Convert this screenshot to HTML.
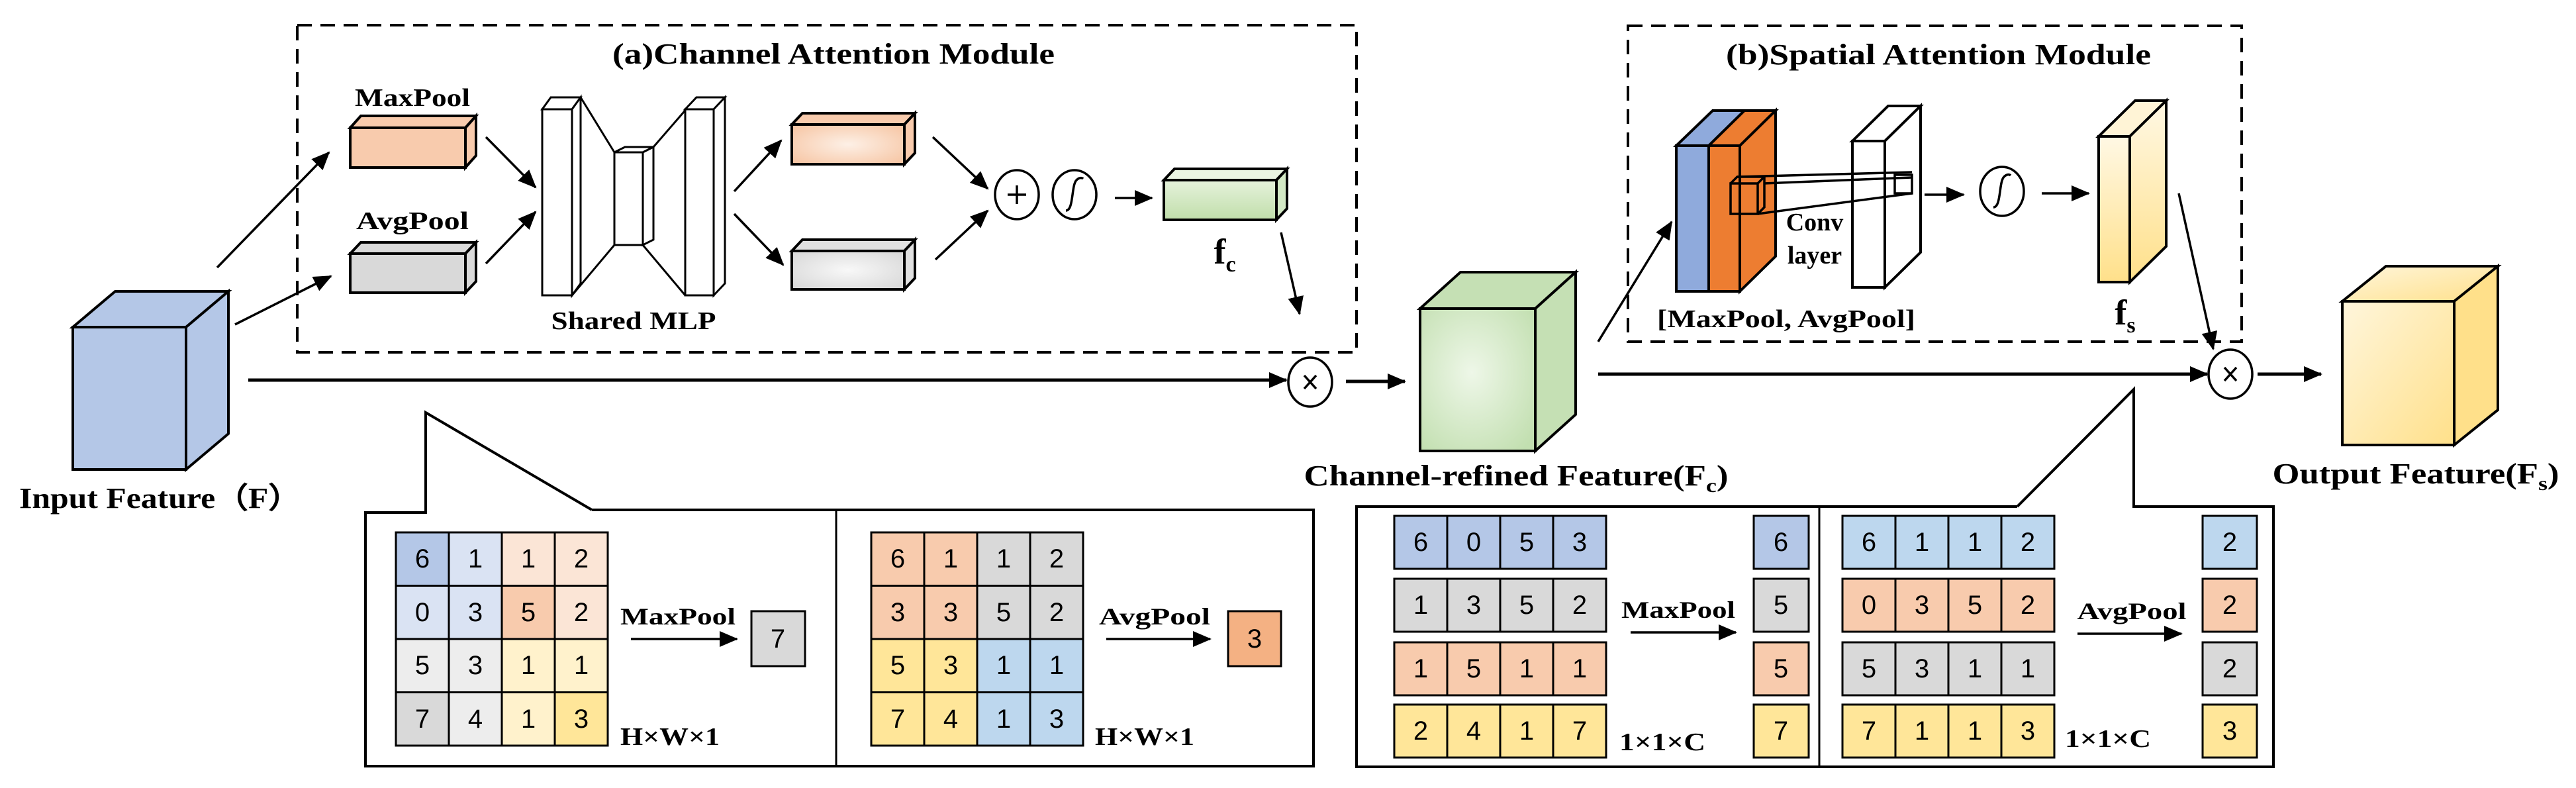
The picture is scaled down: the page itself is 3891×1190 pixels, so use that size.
<!DOCTYPE html>
<html><head><meta charset="utf-8"><style>html,body{margin:0;padding:0;background:#fff}svg{display:block}</style></head>
<body>
<svg xmlns="http://www.w3.org/2000/svg" width="3891" height="1190" viewBox="0 0 3891 1190">
<defs>
<marker id="ah" markerUnits="userSpaceOnUse" markerWidth="30" markerHeight="24" refX="26" refY="12" orient="auto"><path d="M0,0 L28,12 L0,24 Z" fill="#000"/></marker>
<linearGradient id="gOut" x1="0" y1="0" x2="1" y2="1"><stop offset="0" stop-color="#fff6dc"/><stop offset="1" stop-color="#ffe08a"/></linearGradient>
<linearGradient id="gFs" x1="0" y1="0" x2="0" y2="1"><stop offset="0" stop-color="#fff8e4"/><stop offset="1" stop-color="#ffe08a"/></linearGradient>
<radialGradient id="gGreen" cx="0.45" cy="0.45" r="0.7"><stop offset="0" stop-color="#eef7e8"/><stop offset="1" stop-color="#c2dfb0"/></radialGradient>
<radialGradient id="gOr" cx="0.5" cy="0.5" r="0.7"><stop offset="0" stop-color="#fdf0e6"/><stop offset="1" stop-color="#f6c3a0"/></radialGradient>
<radialGradient id="gGr" cx="0.5" cy="0.5" r="0.7"><stop offset="0" stop-color="#f8f8f8"/><stop offset="1" stop-color="#d6d6d6"/></radialGradient>
<linearGradient id="gFc" x1="0" y1="0" x2="0" y2="1"><stop offset="0" stop-color="#e6f2dc"/><stop offset="1" stop-color="#c0deaa"/></linearGradient>
</defs>
<g fill="none" stroke="#000" stroke-width="4" stroke-linejoin="miter">
<rect x="449" y="38" width="1600" height="494" stroke-dasharray="22,13"/>
<rect x="2459" y="39" width="927" height="477" stroke-dasharray="22,13"/>
</g>
<g font-family="Liberation Serif, serif" font-weight="bold" fill="#000" text-anchor="middle">
<text x="1259" y="96" font-size="44" textLength="668" lengthAdjust="spacingAndGlyphs">(a)Channel Attention Module</text>
<text x="2928" y="97" font-size="44" textLength="642" lengthAdjust="spacingAndGlyphs">(b)Spatial Attention Module</text>
<text x="623" y="160" font-size="38" textLength="174" lengthAdjust="spacingAndGlyphs">MaxPool</text>
<text x="623" y="346" font-size="38" textLength="170" lengthAdjust="spacingAndGlyphs">AvgPool</text>
<text x="957" y="497" font-size="38" textLength="249" lengthAdjust="spacingAndGlyphs">Shared MLP</text>
<text x="242" y="767" font-size="44" textLength="426" lengthAdjust="spacingAndGlyphs">Input Feature（F）</text>
<text x="2290" y="733" font-size="44" textLength="641" lengthAdjust="spacingAndGlyphs">Channel-refined Feature(F<tspan font-size="30" dy="10">c</tspan><tspan dy="-10">)</tspan></text>
<text x="3649" y="730" font-size="44" textLength="433" lengthAdjust="spacingAndGlyphs">Output Feature(F<tspan font-size="30" dy="10">s</tspan><tspan dy="-10">)</tspan></text>
<text x="2698" y="494" font-size="38" textLength="390" lengthAdjust="spacingAndGlyphs">[MaxPool, AvgPool]</text>
<text x="2741" y="348" font-size="38">Conv</text>
<text x="2741" y="398" font-size="38">layer</text>
<text x="1850" y="398" font-size="54">f<tspan font-size="34" dy="12">c</tspan></text>
<text x="3210" y="490" font-size="54">f<tspan font-size="34" dy="12">s</tspan></text>
<text x="1024" y="943" font-size="36" textLength="174" lengthAdjust="spacingAndGlyphs">MaxPool</text>
<text x="1744" y="943" font-size="36" textLength="168" lengthAdjust="spacingAndGlyphs">AvgPool</text>
<text x="2535" y="933" font-size="36" textLength="172" lengthAdjust="spacingAndGlyphs">MaxPool</text>
<text x="3220" y="935" font-size="36" textLength="165" lengthAdjust="spacingAndGlyphs">AvgPool</text>
</g>
<g font-family="Liberation Serif, serif" font-weight="bold" fill="#000" font-size="38">
<text x="937" y="1125" textLength="150" lengthAdjust="spacingAndGlyphs">H×W×1</text>
<text x="1654" y="1125" textLength="150" lengthAdjust="spacingAndGlyphs">H×W×1</text>
<text x="2446" y="1133" textLength="130" lengthAdjust="spacingAndGlyphs">1×1×C</text>
<text x="3119" y="1128" textLength="130" lengthAdjust="spacingAndGlyphs">1×1×C</text>
</g>

<g stroke="#000" stroke-width="4" stroke-linejoin="miter">
<rect x="110" y="494" width="171" height="215" fill="#b4c7e7"/>
<polygon points="110,494 174,440 345,440 281,494" fill="#b4c7e7"/>
<polygon points="281,494 345,440 345,655 281,709" fill="#b4c7e7"/>
<rect x="529" y="193" width="174" height="60" fill="#f8cbad"/>
<polygon points="529,193 545,175 719,175 703,193" fill="#f8cbad"/>
<polygon points="703,193 719,175 719,235 703,253" fill="#f8cbad"/>
<rect x="529" y="383" width="174" height="59" fill="#d9d9d9"/>
<polygon points="529,383 545,366 719,366 703,383" fill="#d9d9d9"/>
<polygon points="703,383 719,366 719,425 703,442" fill="#d9d9d9"/>
<g fill="#fff" stroke-width="3">
<polyline points="877,147 928,230" fill="none"/>
<polyline points="864,446 928,370" fill="none"/>
<polyline points="987,222 1052,147" fill="none"/>
<polyline points="971,370 1035,446" fill="none"/>
<rect x="819" y="165" width="45" height="281"/>
<polygon points="819,165 832,147 877,147 864,165"/>
<polygon points="864,165 877,147 877,428 864,446"/>
<rect x="928" y="230" width="43" height="140"/>
<polygon points="928,230 944,222 987,222 971,230"/>
<polygon points="971,230 987,222 987,362 971,370"/>
<rect x="1035" y="165" width="43" height="281"/>
<polygon points="1035,165 1052,147 1095,147 1078,165"/>
<polygon points="1078,165 1095,147 1095,428 1078,446"/>
</g>
<rect x="1196" y="188" width="170" height="60" fill="url(#gOr)"/>
<polygon points="1196,188 1212,171 1382,171 1366,188" fill="#f8cbad"/>
<polygon points="1366,188 1382,171 1382,231 1366,248" fill="#f8cbad"/>
<rect x="1196" y="379" width="170" height="58" fill="url(#gGr)"/>
<polygon points="1196,379 1212,362 1382,362 1366,379" fill="#e0e0e0"/>
<polygon points="1366,379 1382,362 1382,420 1366,437" fill="#e0e0e0"/>
<rect x="1758" y="272" width="170" height="60" fill="url(#gFc)"/>
<polygon points="1758,272 1774,255 1944,255 1928,272" fill="#eaf4e2"/>
<polygon points="1928,272 1944,255 1944,315 1928,332" fill="#d2e8c4"/>
<rect x="2145" y="466" width="174" height="215" fill="url(#gGreen)"/>
<polygon points="2145,466 2206,411 2380,411 2319,466" fill="#c5e0b4"/>
<polygon points="2319,466 2380,411 2380,626 2319,681" fill="#c5e0b4"/>
<rect x="3538" y="455" width="169" height="217" fill="url(#gOut)"/>
<polygon points="3538,455 3604,402 3773,402 3707,455" fill="url(#gOut)"/>
<polygon points="3707,455 3773,402 3773,619 3707,672" fill="#ffe08a"/>
<rect x="2532" y="220" width="49" height="220" fill="#8faadc"/>
<rect x="2581" y="220" width="47" height="220" fill="#ed7d31"/>
<polygon points="2532,220 2587,167 2635,167 2581,220" fill="#8faadc"/>
<polygon points="2581,220 2635,167 2682,167 2628,220" fill="#ed7d31"/>
<polygon points="2628,220 2682,167 2682,387 2628,440" fill="#ed7d31"/>
<rect x="2798" y="213" width="49" height="221" fill="#fff"/>
<polygon points="2798,213 2852,160 2901,160 2847,213" fill="#fff"/>
<polygon points="2847,213 2901,160 2901,381 2847,434" fill="#fff"/>
<g fill="none" stroke-width="3.5">
<rect x="2614" y="277" width="41" height="46"/>
<polyline points="2614,277 2624,267 2665,267 2655,277"/>
<polyline points="2655,323 2665,313 2665,267"/>
<rect x="2862" y="264" width="26" height="28"/>
<line x1="2624" y1="267" x2="2888" y2="260"/>
<line x1="2665" y1="277" x2="2888" y2="268"/>
<line x1="2655" y1="323" x2="2888" y2="292"/>
</g>
<rect x="3170" y="206" width="47" height="220" fill="url(#gFs)"/>
<polygon points="3170,206 3225,152 3272,152 3217,206" fill="#fff4d6"/>
<polygon points="3217,206 3272,152 3272,372 3217,426" fill="url(#gFs)"/>
<g fill="#fff" stroke-width="3.5">
<ellipse cx="1536" cy="294" rx="33" ry="37"/>
<ellipse cx="1623" cy="294" rx="33" ry="37"/>
<ellipse cx="1979" cy="577" rx="33" ry="37"/>
<ellipse cx="3024" cy="289" rx="33" ry="37"/>
<ellipse cx="3369" cy="565" rx="33" ry="37"/>
</g>
<g fill="none" stroke-width="3.5">
<line x1="1536" y1="280" x2="1536" y2="308"/><line x1="1522" y1="294" x2="1550" y2="294"/>
<path d="M1610,318 C1622,318 1618,280 1626,272 C1630,268 1634,268 1636,270"/>
<path d="M3011,313 C3023,313 3019,275 3027,267 C3031,263 3035,263 3037,265"/>
<line x1="1970" y1="567" x2="1988" y2="587"/><line x1="1988" y1="567" x2="1970" y2="587"/>
<line x1="3360" y1="555" x2="3378" y2="575"/><line x1="3378" y1="555" x2="3360" y2="575"/>
</g>
<g fill="none" stroke-width="3.5" marker-end="url(#ah)">
<line x1="328" y1="404" x2="497" y2="230"/>
<line x1="355" y1="490" x2="500" y2="417"/>
<line x1="734" y1="207" x2="809" y2="283"/>
<line x1="734" y1="398" x2="809" y2="320"/>
<line x1="1109" y1="289" x2="1180" y2="212"/>
<line x1="1109" y1="323" x2="1183" y2="400"/>
<line x1="1409" y1="207" x2="1492" y2="285"/>
<line x1="1413" y1="392" x2="1492" y2="318"/>
<line x1="1684" y1="299" x2="1740" y2="299"/>
<line x1="1935" y1="351" x2="1963" y2="474"/>
<line x1="375" y1="574" x2="1943" y2="574" stroke-width="5"/>
<line x1="2033" y1="576" x2="2122" y2="576" stroke-width="5"/>
<line x1="2414" y1="565" x2="3334" y2="565" stroke-width="5"/>
<line x1="3410" y1="565" x2="3506" y2="565" stroke-width="5"/>
<line x1="2414" y1="516" x2="2525" y2="335"/>
<line x1="2907" y1="294" x2="2966" y2="294"/>
<line x1="3084" y1="292" x2="3155" y2="292"/>
<line x1="3291" y1="292" x2="3343" y2="527"/>
<line x1="953" y1="965" x2="1113" y2="965"/>
<line x1="1671" y1="965" x2="1828" y2="965"/>
<line x1="2463" y1="955" x2="2622" y2="955"/>
<line x1="3138" y1="957" x2="3295" y2="957"/>
</g>
<g fill="none" stroke-width="4">
<polyline points="894,770 1984,770 1984,1157 552,1157 552,774 643,774 643,623 894,770"/>
<line x1="1263" y1="770" x2="1263" y2="1157" stroke-width="3"/>
<polyline points="3047,765 2049,765 2049,1158 3434,1158 3434,765 3223,765 3223,588 3047,765"/>
<line x1="2748" y1="765" x2="2748" y2="1158" stroke-width="3"/>
</g>
</g>

<g stroke="#000" stroke-width="3">
<rect x="598" y="804" width="80" height="80.5" fill="#b4c7e7"/><rect x="678" y="804" width="80" height="80.5" fill="#dae3f3"/><rect x="758" y="804" width="80" height="80.5" fill="#fbe5d6"/><rect x="838" y="804" width="80" height="80.5" fill="#fbe5d6"/>
<rect x="598" y="884.5" width="80" height="80.5" fill="#dae3f3"/><rect x="678" y="884.5" width="80" height="80.5" fill="#dae3f3"/><rect x="758" y="884.5" width="80" height="80.5" fill="#f8cbad"/><rect x="838" y="884.5" width="80" height="80.5" fill="#fbe5d6"/>
<rect x="598" y="965" width="80" height="80.5" fill="#ededed"/><rect x="678" y="965" width="80" height="80.5" fill="#ededed"/><rect x="758" y="965" width="80" height="80.5" fill="#fff2cc"/><rect x="838" y="965" width="80" height="80.5" fill="#fff2cc"/>
<rect x="598" y="1045.5" width="80" height="80.5" fill="#d9d9d9"/><rect x="678" y="1045.5" width="80" height="80.5" fill="#ededed"/><rect x="758" y="1045.5" width="80" height="80.5" fill="#fff2cc"/><rect x="838" y="1045.5" width="80" height="80.5" fill="#ffe699"/>
<rect x="1135" y="923" width="81" height="83" fill="#d9d9d9"/>
<rect x="1316" y="804" width="80" height="80.5" fill="#f8cbad"/><rect x="1396" y="804" width="80" height="80.5" fill="#f8cbad"/><rect x="1476" y="804" width="80" height="80.5" fill="#d9d9d9"/><rect x="1556" y="804" width="80" height="80.5" fill="#d9d9d9"/>
<rect x="1316" y="884.5" width="80" height="80.5" fill="#f8cbad"/><rect x="1396" y="884.5" width="80" height="80.5" fill="#f8cbad"/><rect x="1476" y="884.5" width="80" height="80.5" fill="#d9d9d9"/><rect x="1556" y="884.5" width="80" height="80.5" fill="#d9d9d9"/>
<rect x="1316" y="965" width="80" height="80.5" fill="#ffe699"/><rect x="1396" y="965" width="80" height="80.5" fill="#ffe699"/><rect x="1476" y="965" width="80" height="80.5" fill="#bdd7ee"/><rect x="1556" y="965" width="80" height="80.5" fill="#bdd7ee"/>
<rect x="1316" y="1045.5" width="80" height="80.5" fill="#ffe699"/><rect x="1396" y="1045.5" width="80" height="80.5" fill="#ffe699"/><rect x="1476" y="1045.5" width="80" height="80.5" fill="#bdd7ee"/><rect x="1556" y="1045.5" width="80" height="80.5" fill="#bdd7ee"/>
<rect x="1855" y="923" width="80" height="83" fill="#f4b183"/>
<rect x="2106" y="779" width="80" height="80" fill="#b4c7e7"/><rect x="2186" y="779" width="80" height="80" fill="#b4c7e7"/><rect x="2266" y="779" width="80" height="80" fill="#b4c7e7"/><rect x="2346" y="779" width="80" height="80" fill="#b4c7e7"/>
<rect x="2106" y="874" width="80" height="80" fill="#d9d9d9"/><rect x="2186" y="874" width="80" height="80" fill="#d9d9d9"/><rect x="2266" y="874" width="80" height="80" fill="#d9d9d9"/><rect x="2346" y="874" width="80" height="80" fill="#d9d9d9"/>
<rect x="2106" y="970" width="80" height="80" fill="#f8cbad"/><rect x="2186" y="970" width="80" height="80" fill="#f8cbad"/><rect x="2266" y="970" width="80" height="80" fill="#f8cbad"/><rect x="2346" y="970" width="80" height="80" fill="#f8cbad"/>
<rect x="2106" y="1064" width="80" height="80" fill="#ffe699"/><rect x="2186" y="1064" width="80" height="80" fill="#ffe699"/><rect x="2266" y="1064" width="80" height="80" fill="#ffe699"/><rect x="2346" y="1064" width="80" height="80" fill="#ffe699"/>
<rect x="2649" y="779" width="83" height="80" fill="#b4c7e7"/><rect x="2649" y="874" width="83" height="80" fill="#d9d9d9"/><rect x="2649" y="970" width="83" height="80" fill="#f8cbad"/><rect x="2649" y="1064" width="83" height="80" fill="#ffe699"/>
<rect x="2783" y="779" width="80" height="80" fill="#bdd7ee"/><rect x="2863" y="779" width="80" height="80" fill="#bdd7ee"/><rect x="2943" y="779" width="80" height="80" fill="#bdd7ee"/><rect x="3023" y="779" width="80" height="80" fill="#bdd7ee"/>
<rect x="2783" y="874" width="80" height="80" fill="#f8cbad"/><rect x="2863" y="874" width="80" height="80" fill="#f8cbad"/><rect x="2943" y="874" width="80" height="80" fill="#f8cbad"/><rect x="3023" y="874" width="80" height="80" fill="#f8cbad"/>
<rect x="2783" y="970" width="80" height="80" fill="#d9d9d9"/><rect x="2863" y="970" width="80" height="80" fill="#d9d9d9"/><rect x="2943" y="970" width="80" height="80" fill="#d9d9d9"/><rect x="3023" y="970" width="80" height="80" fill="#d9d9d9"/>
<rect x="2783" y="1064" width="80" height="80" fill="#ffe699"/><rect x="2863" y="1064" width="80" height="80" fill="#ffe699"/><rect x="2943" y="1064" width="80" height="80" fill="#ffe699"/><rect x="3023" y="1064" width="80" height="80" fill="#ffe699"/>
<rect x="3327" y="779" width="82" height="80" fill="#bdd7ee"/><rect x="3327" y="874" width="82" height="80" fill="#f8cbad"/><rect x="3327" y="970" width="82" height="80" fill="#d9d9d9"/><rect x="3327" y="1064" width="82" height="80" fill="#ffe699"/>
</g>
<g font-family="Liberation Sans, sans-serif" font-size="40" fill="#000" text-anchor="middle" dominant-baseline="central">
<text x="638" y="844">6</text><text x="718" y="844">1</text><text x="798" y="844">1</text><text x="878" y="844">2</text>
<text x="638" y="925">0</text><text x="718" y="925">3</text><text x="798" y="925">5</text><text x="878" y="925">2</text>
<text x="638" y="1005">5</text><text x="718" y="1005">3</text><text x="798" y="1005">1</text><text x="878" y="1005">1</text>
<text x="638" y="1086">7</text><text x="718" y="1086">4</text><text x="798" y="1086">1</text><text x="878" y="1086">3</text>
<text x="1175" y="965">7</text>
<text x="1356" y="844">6</text><text x="1436" y="844">1</text><text x="1516" y="844">1</text><text x="1596" y="844">2</text>
<text x="1356" y="925">3</text><text x="1436" y="925">3</text><text x="1516" y="925">5</text><text x="1596" y="925">2</text>
<text x="1356" y="1005">5</text><text x="1436" y="1005">3</text><text x="1516" y="1005">1</text><text x="1596" y="1005">1</text>
<text x="1356" y="1086">7</text><text x="1436" y="1086">4</text><text x="1516" y="1086">1</text><text x="1596" y="1086">3</text>
<text x="1895" y="965">3</text>
<text x="2146" y="819">6</text><text x="2226" y="819">0</text><text x="2306" y="819">5</text><text x="2386" y="819">3</text>
<text x="2146" y="914">1</text><text x="2226" y="914">3</text><text x="2306" y="914">5</text><text x="2386" y="914">2</text>
<text x="2146" y="1010">1</text><text x="2226" y="1010">5</text><text x="2306" y="1010">1</text><text x="2386" y="1010">1</text>
<text x="2146" y="1104">2</text><text x="2226" y="1104">4</text><text x="2306" y="1104">1</text><text x="2386" y="1104">7</text>
<text x="2690" y="819">6</text><text x="2690" y="914">5</text><text x="2690" y="1010">5</text><text x="2690" y="1104">7</text>
<text x="2823" y="819">6</text><text x="2903" y="819">1</text><text x="2983" y="819">1</text><text x="3063" y="819">2</text>
<text x="2823" y="914">0</text><text x="2903" y="914">3</text><text x="2983" y="914">5</text><text x="3063" y="914">2</text>
<text x="2823" y="1010">5</text><text x="2903" y="1010">3</text><text x="2983" y="1010">1</text><text x="3063" y="1010">1</text>
<text x="2823" y="1104">7</text><text x="2903" y="1104">1</text><text x="2983" y="1104">1</text><text x="3063" y="1104">3</text>
<text x="3368" y="819">2</text><text x="3368" y="914">2</text><text x="3368" y="1010">2</text><text x="3368" y="1104">3</text>
</g>
</svg>
</body></html>
